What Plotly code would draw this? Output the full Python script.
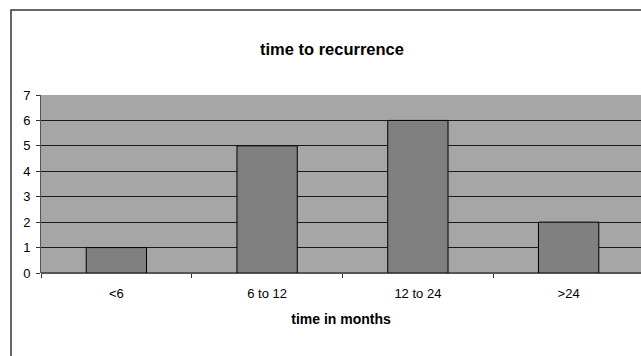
import plotly.graph_objects as go

categories = ["<6", "6 to 12", "12 to 24", ">24"]
counts = [1, 5, 6, 2]
y_ticks = [0, 1, 2, 3, 4, 5, 6, 7]

L, T, B = 41, 95, 83
W, H = 641, 356
plot_w = W - L
plot_h = H - T - B

fig = go.Figure()
fig.add_trace(go.Bar(
    x=categories, y=counts,
    marker=dict(color="#808080", line=dict(color="#000000", width=1)),
    width=0.4,
))

font = "Liberation Sans, Arial, sans-serif"
fig.update_layout(
    width=W, height=H,
    margin=dict(l=L, r=0, t=T, b=B),
    paper_bgcolor="white",
    plot_bgcolor="#A6A6A6",
    showlegend=False,
    font=dict(family=font, size=13, color="black"),
    title=dict(text="<b>time to recurrence</b>", x=332 / W, xanchor="center",
               y=1 - 49 / H, yanchor="middle",
               font=dict(family=font, size=16.5, color="black")),
    xaxis=dict(
        type="category",
        range=[-0.5, -0.5 + plot_w / 150.75],
        tickson="boundaries",
        ticks="outside", ticklen=4, tickcolor="#333333",
        ticklabelstandoff=11,
        showgrid=False,
        showline=False,
        zeroline=False,
        tickfont=dict(size=13),
        title=dict(text="<b>time in months</b>", standoff=14,
                   font=dict(size=14)),
    ),
    yaxis=dict(
        range=[0, 7],
        tickvals=y_ticks,
        ticks="outside", ticklen=4, tickcolor="#333333",
        ticklabelstandoff=3,
        showgrid=True, gridcolor="#1a1a1a", gridwidth=1,
        showline=True, linecolor="#555555", linewidth=1,
        zeroline=True, zerolinecolor="#555555",
        tickfont=dict(size=13),
    ),
    shapes=[
        dict(type="rect", xref="paper", yref="paper",
             x0=(11 - L) / plot_w, x1=1.2, y0=-0.8, y1=1 + (T - 10) / plot_h,
             line=dict(color="#333333", width=1.5), fillcolor="rgba(0,0,0,0)",
             layer="below"),
    ],
)

fig.write_html(
    "out.html",
    config={"displayModeBar": False},
    post_script="document.body.style.margin='0';document.body.style.overflow='hidden';",
)
